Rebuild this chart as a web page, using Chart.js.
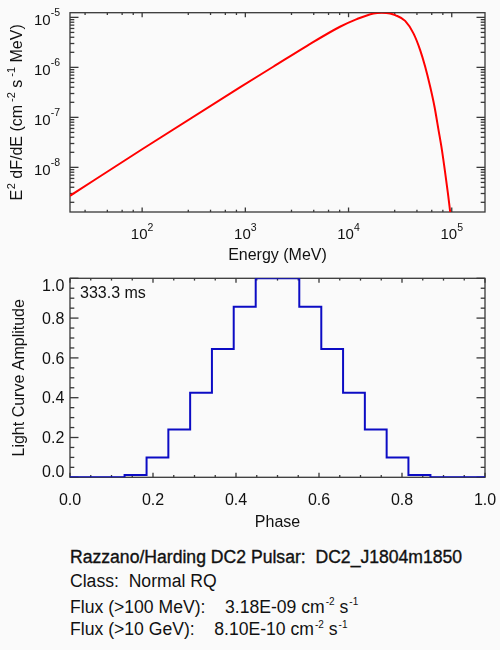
<!DOCTYPE html>
<html>
<head>
<meta charset="utf-8">
<script src="https://cdn.jsdelivr.net/npm/chart.js@4.4.1/dist/chart.umd.min.js"></script>
<style>
html,body{margin:0;padding:0;background:#fafafa;}
body{width:500px;height:650px;position:relative;overflow:hidden;font-family:"Liberation Sans",Arial,Helvetica,sans-serif;color:#111;}
canvas{position:absolute;left:0;}
#spec{top:0;}
#lc{top:265px;}
.info{position:absolute;left:70px;font-size:17.6px;line-height:20px;white-space:pre;}
.info .s{position:relative;top:-7.5px;font-size:10px;margin-left:1px;}
.title{-webkit-text-stroke:0.35px #111;}
</style>
</head>
<body>
<canvas id="spec" width="500" height="266"></canvas>
<canvas id="lc" width="500" height="265"></canvas>
<div class="info title" style="top:546.6px">Razzano/Harding DC2 Pulsar:  DC2_J1804m1850</div>
<div class="info" style="top:571.2px">Class:  Normal RQ</div>
<div class="info" style="top:596.6px">Flux (&gt;100 MeV):    3.18E-09 cm<span class="s">-2</span> s<span class="s">-1</span></div>
<div class="info" style="top:619.2px">Flux (&gt;10 GeV):    8.10E-10 cm<span class="s">-2</span> s<span class="s">-1</span></div>
<script>
// ---------------- data ----------------
const energyMeV = [20, 100, 885, 1862, 3926, 8260, 12020, 17420, 21000, 25290, 28290, 35360, 42560, 49430, 55300, 61840, 68080, 74470, 80350, 86500, 91830, 96600];
const e2dfde    = [2.70e-9, 2.30e-8, 3.98e-7, 1.03e-6, 2.67e-6, 6.49e-6, 9.25e-6, 1.20e-5, 1.24e-5, 1.20e-5, 1.11e-5, 8.5e-6, 4.79e-6, 2.22e-6, 1.03e-6, 4.09e-7, 1.63e-7, 5.57e-8, 2.22e-8, 7.59e-9, 3.02e-9, 1.28e-9];

const phase     = [0.000, 0.053, 0.105, 0.158, 0.211, 0.263, 0.316, 0.368, 0.421, 0.474, 0.526, 0.579, 0.632, 0.684, 0.737, 0.789, 0.842, 0.895, 0.947, 1.000];
const amplitude = [0, 0, 0, 0.012, 0.10, 0.24, 0.425, 0.645, 0.857, 1.0, 1.0, 0.857, 0.645, 0.425, 0.24, 0.10, 0.012, 0, 0, 0];

const energyMajor = [100, 1000, 10000, 100000];
const energyMajorExp = ['2', '3', '4', '5'];
const energyMinorBase = [10, 100, 1000, 10000, 100000];
const energyMinorMantissa = [2.8, 4.6, 6.4, 8.2];

const fluxMajor = [1e-8, 1e-7, 1e-6, 1e-5];
const fluxMajorExp = ['-8', '-7', '-6', '-5'];
const fluxMinorBase = [1e-9, 1e-8, 1e-7, 1e-6, 1e-5];
const fluxMinorMantissa = [2, 3, 4, 5, 6, 7, 8, 9];

const linMajor = [0, 0.2, 0.4, 0.6, 0.8, 1.0];
const linMajorLabels = ['0.0', '0.2', '0.4', '0.6', '0.8', '1.0'];
const linMinor = [0.05, 0.1, 0.15, 0.25, 0.3, 0.35, 0.45, 0.5, 0.55, 0.65, 0.7, 0.75, 0.85, 0.9, 0.95];

const periodLabel = '333.3 ms';

// ---------------- helpers ----------------
const FAMILY = '"Liberation Sans", Arial, Helvetica, sans-serif';
const AX = '#383838';
const TXT = '#111111';
function fnt(sz) { return sz + 'px ' + FAMILY; }
function seg(ctx, x1, y1, x2, y2) { ctx.beginPath(); ctx.moveTo(x1, y1); ctx.lineTo(x2, y2); ctx.stroke(); }
function rich(ctx, parts, x, y, align, size, supSize, rise) {
  const w = parts.map(p => { ctx.font = fnt(p[1] ? supSize : size); return ctx.measureText(p[0]).width + (p[2] || 0); });
  const total = w.reduce((a, b) => a + b, 0);
  let cx = align === 'center' ? x - total / 2 : (align === 'right' ? x - total : x);
  ctx.textAlign = 'left';
  ctx.textBaseline = 'alphabetic';
  parts.forEach((p, i) => {
    ctx.font = fnt(p[1] ? supSize : size);
    ctx.fillText(p[0], cx + (p[2] || 0), y - (p[1] ? rise : 0));
    cx += w[i];
  });
}
function xTicks(chart, vals, len) {
  const { ctx, chartArea: a, scales: { x } } = chart;
  vals.forEach(v => {
    if (v < x.min || v > x.max) return;
    const p = x.getPixelForValue(v);
    seg(ctx, p, a.bottom, p, a.bottom - len);
    seg(ctx, p, a.top, p, a.top + len);
  });
}
function yTicks(chart, vals, len) {
  const { ctx, chartArea: a, scales: { y } } = chart;
  vals.forEach(v => {
    if (v < y.min || v > y.max) return;
    const p = y.getPixelForValue(v);
    seg(ctx, a.left, p, a.left + len, p);
    seg(ctx, a.right, p, a.right - len, p);
  });
}
function frame(chart) {
  const { ctx, chartArea: a } = chart;
  ctx.strokeStyle = AX;
  ctx.lineWidth = 1.3;
  ctx.strokeRect(a.left, a.top, a.right - a.left, a.bottom - a.top);
}

// ---------------- spectrum chart ----------------
const energyMinor = [];
energyMinorBase.forEach(b => energyMinorMantissa.forEach(m => energyMinor.push(b * m)));
const fluxMinor = [];
fluxMinorBase.forEach(b => fluxMinorMantissa.forEach(m => fluxMinor.push(b * m)));

const specAxes = {
  id: 'specAxes',
  beforeDatasetsDraw(chart) {
    const { ctx, chartArea: a, scales: { x, y } } = chart;
    ctx.save();
    frame(chart);
    xTicks(chart, energyMajor, 4.5);
    xTicks(chart, energyMinor, 2.3);
    yTicks(chart, fluxMajor, 8.5);
    yTicks(chart, fluxMinor, 4.3);
    ctx.fillStyle = TXT;
    energyMajor.forEach((v, i) => {
      rich(ctx, [['10', false], [energyMajorExp[i], true]], x.getPixelForValue(v), 239.3, 'center', 15, 10.5, 8.5);
    });
    fluxMajor.forEach((v, i) => {
      rich(ctx, [['10', false], [fluxMajorExp[i], true]], 60, y.getPixelForValue(v) + 7.2, 'right', 15, 10.5, 8.5);
    });
    ctx.font = fnt(16);
    ctx.textAlign = 'center';
    ctx.textBaseline = 'alphabetic';
    ctx.fillText('Energy (MeV)', (a.left + a.right) / 2, 260);
    ctx.save();
    ctx.translate(21.7, (a.top + a.bottom) / 2);
    ctx.rotate(-Math.PI / 2);
    rich(ctx, [['E', false], ['2', true, 0.5], [' dF/dE (cm', false], ['-2', true, 3], [' s', false], ['-1', true, 3], [' MeV)', false]], 0, 0, 'center', 16, 11, 7);
    ctx.restore();
    ctx.restore();
  }
};

new Chart(document.getElementById('spec'), {
  type: 'line',
  data: {
    datasets: [{
      data: energyMeV.map((e, i) => ({ x: e, y: e2dfde[i] })),
      borderColor: '#ff0000',
      borderWidth: 2,
      pointRadius: 0,
      cubicInterpolationMode: 'monotone',
      fill: false
    }]
  },
  options: {
    responsive: false,
    animation: false,
    events: [],
    layout: { padding: { left: 70, right: 15, top: 12.7, bottom: 54 } },
    plugins: { legend: { display: false }, tooltip: { enabled: false } },
    scales: {
      x: { type: 'logarithmic', display: false, min: 20, max: 2.1e5 },
      y: { type: 'logarithmic', display: false, min: 1.28e-9, max: 1.24e-5 }
    }
  },
  plugins: [specAxes]
});

// ---------------- light curve chart ----------------
const lcAxes = {
  id: 'lcAxes',
  beforeDatasetsDraw(chart) {
    const { ctx, chartArea: a, scales: { x, y } } = chart;
    ctx.save();
    frame(chart);
    xTicks(chart, linMajor, 4.5);
    xTicks(chart, linMinor, 2.3);
    yTicks(chart, linMajor, 8.5);
    yTicks(chart, linMinor, 4.3);
    ctx.fillStyle = TXT;
    ctx.font = fnt(16);
    ctx.textBaseline = 'alphabetic';
    ctx.textAlign = 'center';
    linMajor.forEach((v, i) => ctx.fillText(linMajorLabels[i], x.getPixelForValue(v), 240));
    ctx.textAlign = 'right';
    linMajor.forEach((v, i) => {
      const p = y.getPixelForValue(v) + 5.75;
      const b = Math.min(Math.max(p, a.top + 12.4), a.bottom);
      ctx.fillText(linMajorLabels[i], 64.3, b);
    });
    ctx.textAlign = 'center';
    ctx.fillText('Phase', (a.left + a.right) / 2, 262);
    ctx.textAlign = 'left';
    ctx.fillText(periodLabel, 80, 33.4);
    ctx.save();
    ctx.translate(24, (a.top + a.bottom) / 2);
    ctx.rotate(-Math.PI / 2);
    ctx.textAlign = 'center';
    ctx.fillText('Light Curve Amplitude', 0, 0);
    ctx.restore();
    ctx.restore();
  }
};

new Chart(document.getElementById('lc'), {
  type: 'line',
  data: {
    datasets: [{
      data: phase.map((p, i) => ({ x: p, y: amplitude[i] })),
      borderColor: '#0c0cc4',
      borderWidth: 2,
      pointRadius: 0,
      stepped: 'middle',
      fill: false
    }]
  },
  options: {
    responsive: false,
    animation: false,
    events: [],
    layout: { padding: { left: 70, right: 15, top: 13.3, bottom: 52.7 } },
    plugins: { legend: { display: false }, tooltip: { enabled: false } },
    scales: {
      x: { type: 'linear', display: false, min: 0, max: 1 },
      y: { type: 'linear', display: false, min: 0, max: 1 }
    }
  },
  plugins: [lcAxes]
});
</script>
</body>
</html>
